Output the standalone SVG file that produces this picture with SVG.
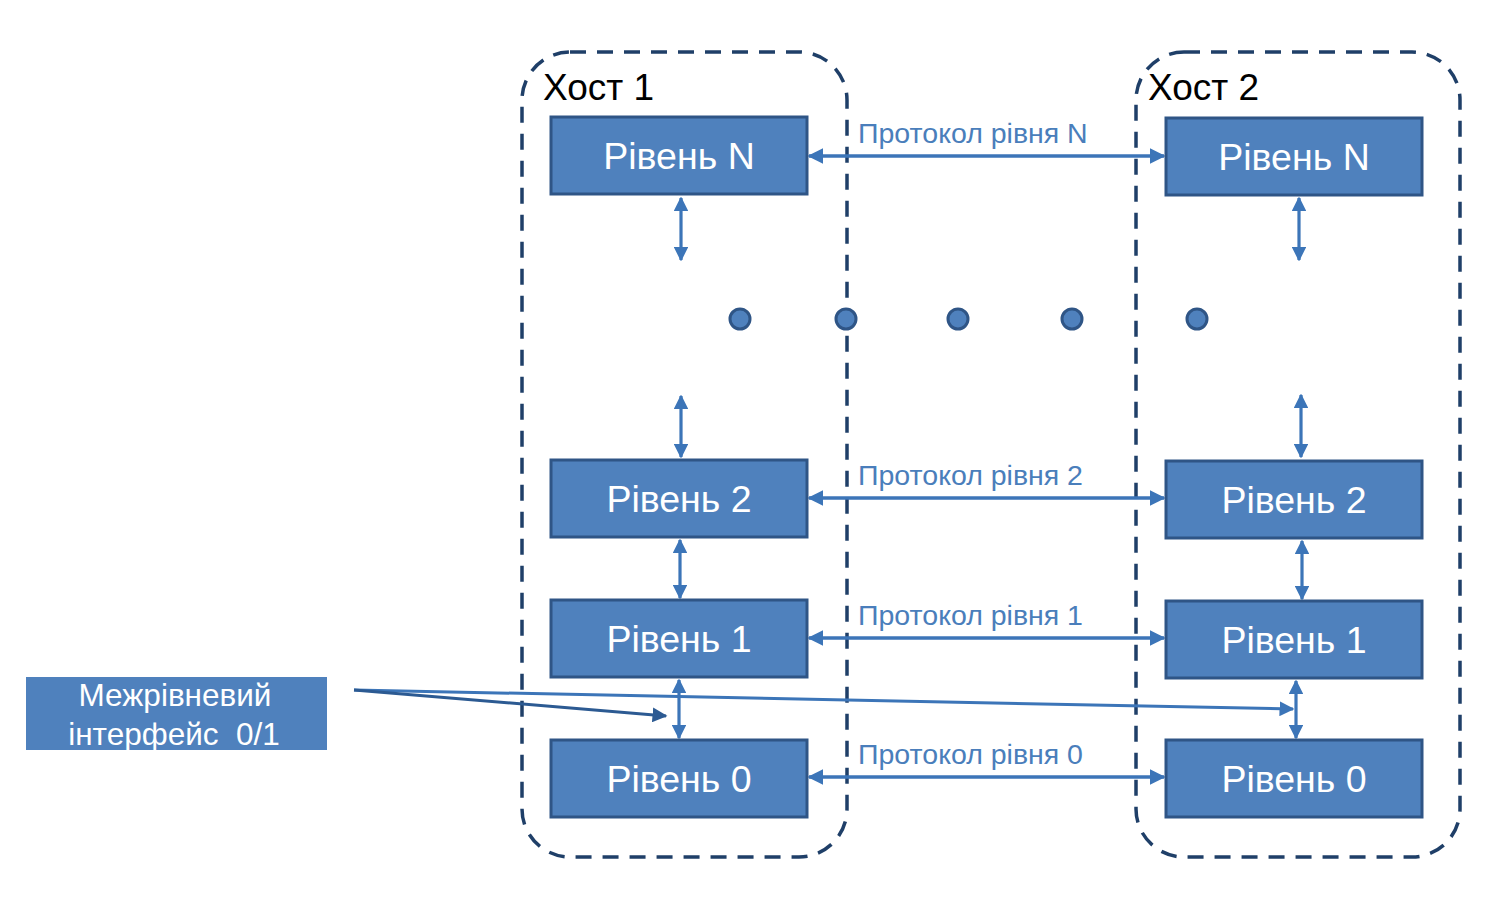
<svg xmlns="http://www.w3.org/2000/svg" width="1500" height="900" viewBox="0 0 1500 900">
<defs>
<style>
.host{fill:none;stroke:#1f3f68;stroke-width:3.5;stroke-dasharray:16 11}
.box rect{fill:#4f81bd;stroke:#2f5586;stroke-width:3}
.box text{fill:#fff;font-family:"Liberation Sans",Arial,sans-serif;font-size:37.5px;text-anchor:middle}
.hl{fill:#000;font-family:"Liberation Sans",Arial,sans-serif;font-size:37px}
.pl{fill:#4a7ebb;font-family:"Liberation Sans",Arial,sans-serif;font-size:28.5px}
.c{stroke:#3c75b8;stroke-width:3.5;fill:none;marker-start:url(#a);marker-end:url(#a)}
.v{stroke:#3c75b8;stroke-width:3.2;fill:none;marker-start:url(#a);marker-end:url(#a)}
.dot{fill:#4f81bd;stroke:#2f5586;stroke-width:3}
.il{stroke-width:3;fill:none}
.it{fill:#fff;font-family:"Liberation Sans",Arial,sans-serif;font-size:31.5px;text-anchor:middle}
</style>
<marker id="a" viewBox="0 0 10 10" refX="9" refY="5" markerWidth="4.5" markerHeight="4.5" orient="auto-start-reverse" markerUnits="strokeWidth"><path d="M0,0L10,5L0,10z" fill="#3c75b8"/></marker>
<marker id="b" viewBox="0 0 10 10" refX="9" refY="5" markerWidth="5" markerHeight="5" orient="auto" markerUnits="strokeWidth"><path d="M0,0L10,5L0,10z" fill="#2c5a92"/></marker>
<marker id="c" viewBox="0 0 10 10" refX="9" refY="5" markerWidth="5" markerHeight="5" orient="auto" markerUnits="strokeWidth"><path d="M0,0L10,5L0,10z" fill="#3c75b8"/></marker>
</defs>
<rect width="1500" height="900" fill="#fff"/>
<g id="host1"><rect class="host" x="522" y="52" width="325" height="805" rx="48"/><text class="hl" x="543" y="100">Хост 1</text></g>
<g id="host2"><rect class="host" x="1136" y="52" width="324" height="805" rx="48"/><text class="hl" x="1148" y="100">Хост 2</text></g>
<g id="dots">
<circle class="dot" cx="740" cy="319" r="10"/><circle class="dot" cx="846" cy="319" r="10"/><circle class="dot" cx="958" cy="319" r="10"/><circle class="dot" cx="1072" cy="319" r="10"/><circle class="dot" cx="1197" cy="319" r="10"/>
</g>
<g id="connectors">
<line class="c" x1="809" y1="156" x2="1164" y2="156"/>
<line class="c" x1="809" y1="498" x2="1164" y2="498"/>
<line class="c" x1="809" y1="638" x2="1164" y2="638"/>
<line class="c" x1="809" y1="777" x2="1164" y2="777"/>
<line class="v" x1="681" y1="198" x2="681" y2="260"/>
<line class="v" x1="681" y1="396" x2="681" y2="457"/>
<line class="v" x1="680" y1="540" x2="680" y2="598"/>
<line class="v" x1="679" y1="680" x2="679" y2="738"/>
<line class="v" x1="1299" y1="198" x2="1299" y2="260"/>
<line class="v" x1="1301" y1="395" x2="1301" y2="457"/>
<line class="v" x1="1302" y1="541" x2="1302" y2="599"/>
<line class="v" x1="1296" y1="681" x2="1296" y2="738"/>
<line class="il" stroke="#3c75b8" x1="354" y1="690" x2="1293" y2="709" marker-end="url(#c)"/>
<line class="il" stroke="#2c5a92" x1="354" y1="690" x2="666" y2="716" marker-end="url(#b)"/>
<text class="pl" x="858" y="143">Протокол рівня N</text>
<text class="pl" x="858" y="485">Протокол рівня 2</text>
<text class="pl" x="858" y="625">Протокол рівня 1</text>
<text class="pl" x="858" y="764">Протокол рівня 0</text>
</g>
<g id="h1n" class="box"><rect x="551" y="117" width="256" height="77"/><text x="679" y="169">Рівень N</text></g>
<g id="h12" class="box"><rect x="551" y="460" width="256" height="77"/><text x="679" y="512">Рівень 2</text></g>
<g id="h11" class="box"><rect x="551" y="600" width="256" height="77"/><text x="679" y="652">Рівень 1</text></g>
<g id="h10" class="box"><rect x="551" y="740" width="256" height="77"/><text x="679" y="792">Рівень 0</text></g>
<g id="h2n" class="box"><rect x="1166" y="118" width="256" height="77"/><text x="1294" y="170">Рівень N</text></g>
<g id="h22" class="box"><rect x="1166" y="461" width="256" height="77"/><text x="1294" y="513">Рівень 2</text></g>
<g id="h21" class="box"><rect x="1166" y="601" width="256" height="77"/><text x="1294" y="653">Рівень 1</text></g>
<g id="h20" class="box"><rect x="1166" y="740" width="256" height="77"/><text x="1294" y="792">Рівень 0</text></g>
<g id="iface"><rect x="26" y="677" width="301" height="73" fill="#4f81bd"/>
<text class="it" x="175" y="706">Межрівневий</text>
<text class="it" x="174" y="745" xml:space="preserve">інтерфейс  0/1</text></g>
</svg>
